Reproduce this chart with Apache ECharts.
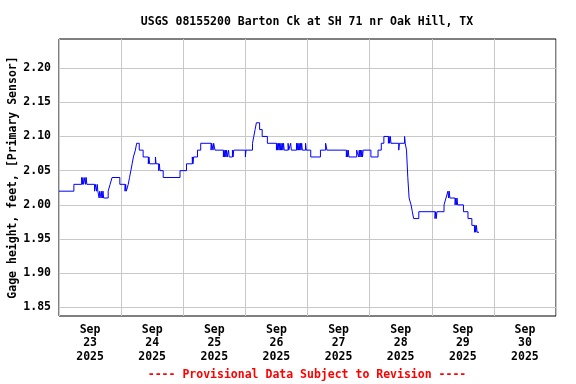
<!DOCTYPE html>
<html>
<head>
<meta charset="utf-8">
<script src="https://cdn.jsdelivr.net/npm/echarts@6/dist/echarts.min.js"></script>
<style>html,body{margin:0;padding:0;background:#fff}#c{width:576px;height:384px}</style>
</head>
<body>
<div id="c"></div>
<script>
// Hours since Sep 23 2025 00:00 where the reading changes, and the gage height (ft) from that time on
const hours = [
  0, 5.75, 8.75, 9.0, 9.25, 9.5, 10.0, 10.25, 10.5, 10.75, 13.75, 14.0, 14.5, 14.75, 15.0,
  15.5, 15.75, 16.25, 16.5, 16.75, 17.0, 17.25, 19.0, 19.75, 20.5, 23.5, 25.5, 25.75, 26.0,
  26.75, 27.25, 27.75, 28.25, 28.75, 29.5, 30.0, 31.0, 32.5, 34.5, 34.75, 35.0, 37.25, 37.5,
  38.5, 38.75, 39.0, 40.25, 46.75, 49.25, 51.5, 51.75, 52.0, 53.5, 54.75, 58.75, 59.0, 59.5,
  59.75, 60.25, 63.5, 63.75, 64.0, 64.25, 64.5, 64.75, 65.0, 65.5, 65.75, 67.0, 67.25, 67.5,
  72.0, 72.25, 74.75, 75.25, 75.75, 76.25, 77.5, 78.5, 80.5,
  84.0, 84.25, 84.5, 84.75, 85.0, 85.25, 85.5, 85.75, 86.0, 86.25, 86.5, 86.75, 87.0,
  88.5, 88.75, 89.5, 89.75,
  91.75, 92.0, 92.25, 92.5, 92.75, 93.0, 93.25, 93.5, 93.75, 94.0, 95.25, 95.5,
  97.25, 101.0, 103.0, 103.5, 111.0, 111.25, 111.5, 111.75, 112.0,
  115.0, 115.75, 116.0, 116.25, 116.5, 116.75, 117.0, 117.25, 117.5,
  120.5, 123.25, 124.5, 125.5, 127.25, 127.5, 127.75, 128.0, 128.25, 131.25, 131.5,
  133.5, 133.75, 134.25, 134.75, 135.25, 136.0, 136.5, 137.0, 139.0,
  145.25, 145.5, 145.75, 146.0, 148.75, 149.5, 150.25, 150.5, 150.75, 151.0,
  153.0, 153.25, 153.5, 153.75, 154.0, 156.25, 158.0, 159.5,
  160.5, 160.75, 161.0, 161.25, 161.5, 162.25
];
const gageFeet = [
  2.02, 2.03, 2.04, 2.03, 2.04, 2.03, 2.04, 2.03, 2.04, 2.03, 2.02, 2.03, 2.02, 2.03, 2.02,
  2.01, 2.02, 2.01, 2.02, 2.01, 2.02, 2.01, 2.02, 2.03, 2.04, 2.03, 2.02, 2.03, 2.02,
  2.03, 2.04, 2.05, 2.06, 2.07, 2.08, 2.09, 2.08, 2.07, 2.06, 2.07, 2.06, 2.07, 2.06,
  2.05, 2.06, 2.05, 2.04, 2.05, 2.06, 2.07, 2.06, 2.07, 2.08, 2.09, 2.08, 2.09, 2.08,
  2.09, 2.08, 2.07, 2.08, 2.07, 2.08, 2.07, 2.08, 2.07, 2.08, 2.07, 2.08, 2.07, 2.08,
  2.07, 2.08, 2.09, 2.10, 2.11, 2.12, 2.11, 2.10, 2.09,
  2.08, 2.09, 2.08, 2.09, 2.08, 2.09, 2.08, 2.09, 2.08, 2.09, 2.08, 2.09, 2.08,
  2.09, 2.08, 2.09, 2.08,
  2.09, 2.08, 2.09, 2.08, 2.09, 2.08, 2.09, 2.08, 2.09, 2.08, 2.09, 2.08,
  2.07, 2.08, 2.09, 2.08, 2.07, 2.08, 2.07, 2.08, 2.07,
  2.08, 2.07, 2.08, 2.07, 2.08, 2.07, 2.08, 2.07, 2.08,
  2.07, 2.08, 2.09, 2.10, 2.09, 2.10, 2.09, 2.10, 2.09, 2.08, 2.09,
  2.10, 2.09, 2.08, 2.04, 2.01, 2.00, 1.99, 1.98, 1.99,
  1.98, 1.99, 1.98, 1.99, 2.00, 2.01, 2.02, 2.01, 2.02, 2.01,
  2.00, 2.01, 2.00, 2.01, 2.00, 1.99, 1.98, 1.97,
  1.96, 1.97, 1.96, 1.97, 1.96, 1.96
];
const yTicks = [1.85, 1.90, 1.95, 2.00, 2.05, 2.10, 2.15, 2.20];
const dayLabelHours = [12, 36, 60, 84, 108, 132, 156, 180];
const dayLabels = ['Sep\n23\n2025', 'Sep\n24\n2025', 'Sep\n25\n2025', 'Sep\n26\n2025',
                   'Sep\n27\n2025', 'Sep\n28\n2025', 'Sep\n29\n2025', 'Sep\n30\n2025'];
const titleText = 'USGS 08155200 Barton Ck at SH 71 nr Oak Hill, TX';
const yName = 'Gage height, feet, [Primary Sensor]';
const noteText = '---- Provisional Data Subject to Revision ----';

const FONT = '"DejaVu Sans Mono", monospace';
const chart = echarts.init(document.getElementById('c'), null, {renderer: 'canvas'});
chart.setOption({
  animation: false,
  backgroundColor: '#fff',
  grid: {left: 59, right: 20, top: 39, bottom: 68, containLabel: false, outerBoundsMode: 'none',
         show: true, borderColor: '#000', borderWidth: 1, backgroundColor: 'transparent'},
  graphic: [
    {type: 'text', x: 307, y: 16, style: {text: titleText, fill: '#000',
      font: 'bold 11.5px ' + FONT, textAlign: 'center'}},
    {type: 'text', x: 307, y: 369, style: {text: noteText, fill: '#ff0000',
      font: 'bold 11.5px ' + FONT, textAlign: 'center'}}
  ],
  xAxis: {
    type: 'value', min: 0, max: 192, interval: 24,
    axisLine: {show: false}, axisTick: {show: false},
    splitLine: {show: true, lineStyle: {color: '#c8c8c8', width: 1}},
    axisLabel: {
      customValues: dayLabelHours,
      formatter: v => dayLabels[dayLabelHours.indexOf(v)] || '',
      color: '#000', fontFamily: FONT, fontWeight: 'bold', fontSize: 11.5,
      lineHeight: 13.5, margin: 7
    }
  },
  yAxis: {
    type: 'value', min: 1.8376, max: 2.2424,
    name: yName, nameLocation: 'middle', nameGap: 40, nameRotate: 90, nameMoveOverlap: false,
    nameTextStyle: {color: '#000', fontFamily: FONT, fontWeight: 'bold', fontSize: 11.5},
    axisLine: {show: false},
    axisTick: {show: false, customValues: yTicks},
    splitLine: {show: true, lineStyle: {color: '#c8c8c8', width: 1}},
    axisLabel: {
      customValues: yTicks,
      formatter: v => v.toFixed(2),
      color: '#000', fontFamily: FONT, fontWeight: 'bold', fontSize: 11.5, margin: 8
    }
  },
  series: [{
    type: 'line', step: 'end', showSymbol: false, symbol: 'none',
    lineStyle: {color: '#0000ff', width: 1},
    data: hours.map((h, i) => [h, gageFeet[i]])
  }]
});
</script>
</body>
</html>
